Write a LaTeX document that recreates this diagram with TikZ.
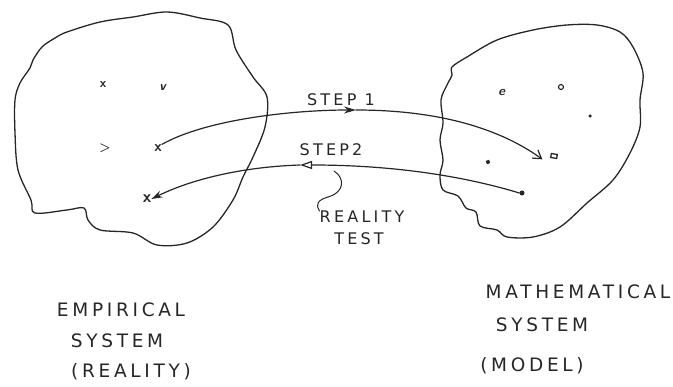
\documentclass[tikz,border=0pt]{standalone}
\usepackage{fontspec}
\usetikzlibrary{arrows.meta}
\newfontfamily\handfont[LetterSpace=20]{DejaVu Sans}
\tikzset{
  ink/.style={draw=black!85, line width=1.2pt, line cap=round, line join=round},
  blob/.style={ink, line width=1.3pt},
  lbl/.style={font=\handfont\fontsize{16}{18}\selectfont, text=black!85, inner sep=0pt},
  biglbl/.style={font=\handfont\fontsize{18.5}{20}\selectfont, text=black!85, inner sep=0pt, align=left},
  xmark/.style={font=\sffamily\bfseries\fontsize{13}{13}\selectfont, text=black!85, inner sep=0pt},
}
\begin{document}
\begin{tikzpicture}[x=1pt,y=-1pt]
\useasboundingbox (0,0) rectangle (673,387);
% left blob (empirical system)
\draw[blob] plot[smooth cycle, tension=0.55] coordinates {
 (15,100) (20,83) (30,68) (33,60) (42,47) (55,38) (67,32) (100,22) (133,17)
 (167,12) (200,18) (228,25) (236,50) (253,77) (267,97) (265,127) (253,157)
 (243,177) (233,200) (213,227) (187,243) (157,245) (133,233) (100,230)
 (88,220) (84,208) (67,210) (35,213) (31,200) (18,170) (15,133)};
% right blob (mathematical system)
\draw[blob] plot[smooth cycle, tension=0.55] coordinates {
 (452,67) (467,57) (497,40) (533,30) (567,25) (597,25) (620,32) (633,47)
 (643,73) (640,100) (640,127) (630,153) (613,180) (587,203) (560,227)
 (533,237) (507,237) (497,230) (480,226) (476,212) (466,208) (458,196)
 (443,190) (440,175) (443,160) (440,140) (443,123) (441,100) (447,85) (452,75)};
% marks in left blob
\node[xmark] (l1) at (103,85) {x};
\node[xmark] (l2) at (163,88) {\textit{v}};
\node[xmark] (l3) at (105,148) {>};
\node[xmark,font=\sffamily\bfseries\fontsize{15}{15}\selectfont] (lsrc) at (158,148) {x};
\node[xmark,font=\sffamily\bfseries\fontsize{17}{17}\selectfont] (ltgt) at (147,199) {x};
% marks in right blob
\node[xmark] (r1) at (502,92) {\textit{e}};
\node[draw=black!85, circle, line width=1.1pt, inner sep=0pt, minimum size=5pt] (r2) at (561,87) {};
\node[fill=black!85, circle, inner sep=0pt, minimum size=3.5pt] (r3) at (590,116) {};
\node[draw=black!85, line width=1.3pt, inner sep=0pt, minimum width=6pt, minimum height=4pt, rotate=-10] (rtgt) at (554,156) {};
\node[fill=black!85, inner sep=0pt, minimum size=3.5pt, rotate=20] (r5) at (488,162) {};
\node[fill=black!85, circle, inner sep=0pt, minimum size=5pt] (rsrc) at (522,193) {};
% mid points of the arrows
\coordinate (m1) at (356,110);
\coordinate (m2) at (300,165);
% step 1
\draw[ink, -{Stealth[length=12pt,width=7pt]}] (lsrc.north east) .. controls (205,120) and (290,110) .. (m1);
\draw[ink, -{Straight Barb[length=8pt,width=10pt]}] (m1) .. controls (430,110) and (495,125) .. ([xshift=-8pt,yshift=-4pt]rtgt.west);
% step 2
\draw[ink, -{Triangle[open,length=12pt,width=8pt]}] (rsrc.west) .. controls (470,178) and (400,165) .. (m2);
\draw[ink, -{Stealth[length=11pt,width=7pt]}] (m2) .. controls (240,167) and (190,180) .. (ltgt.east);
% labels
\node[lbl] (s1) at (341,100) {STEP 1};
\node[lbl] (s2) at (331,150) {STEP2};
\coordinate (q0) at (334,171);
\node[lbl] (rt) at (362,217) {REALITY};
\node[lbl] (tt) at (359,239) {TEST};
\draw[ink, line width=1pt] (q0) .. controls (345,178) and (345,192) .. (328,197) .. controls (318,200) and (315,204) .. (rt.north west);
\node[biglbl] (e1) at (121,310) {EMPIRICAL};
\node[biglbl] (e2) at (117,341) {SYSTEM};
\node[biglbl] (e3) at (131,372) {(REALITY)};
\node[biglbl] (m1t) at (578,292) {MATHEMATICAL};
\node[biglbl] (m2t) at (542,325) {SYSTEM};
\node[biglbl] (m3t) at (532,366) {(MODEL)};
\end{tikzpicture}
\end{document}
